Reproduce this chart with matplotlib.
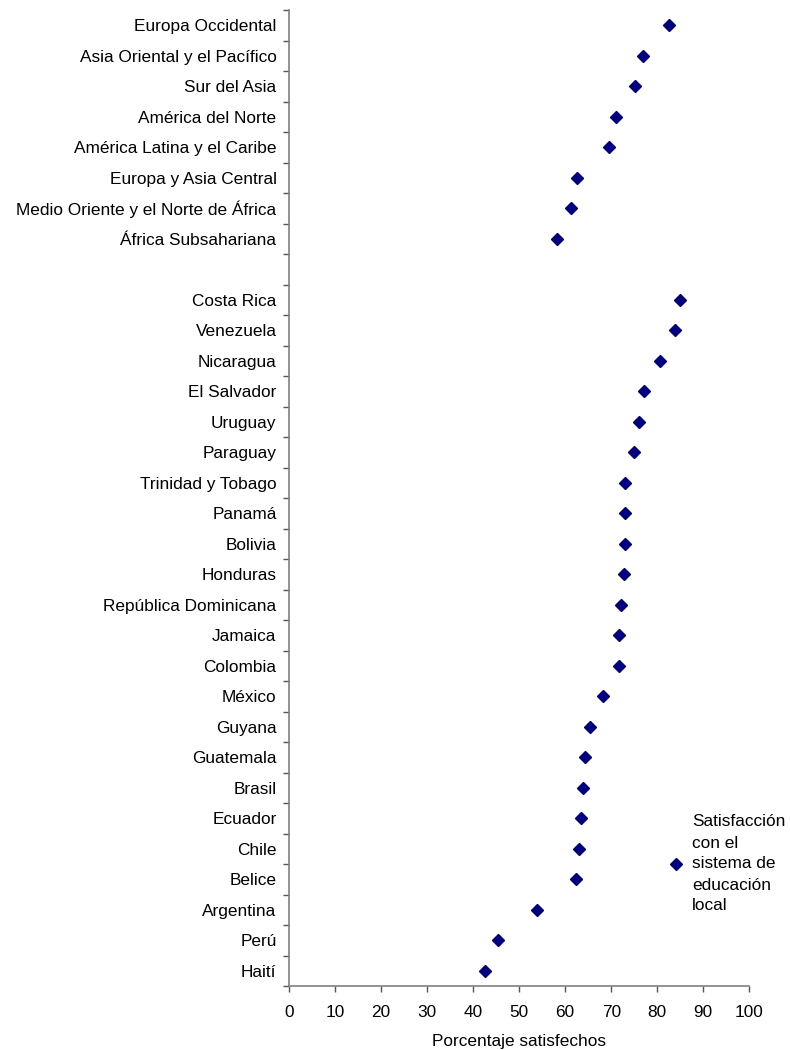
import numpy as np
import matplotlib
matplotlib.use('Agg')
import matplotlib.pyplot as plt
from matplotlib.ticker import FixedLocator

plt.rcParams['font.family'] = ['Liberation Sans', 'DejaVu Sans']

# Regiones del mundo
regiones = ['Europa Occidental', 'Asia Oriental y el Pacífico', 'Sur del Asia',
            'América del Norte', 'América Latina y el Caribe', 'Europa y Asia Central',
            'Medio Oriente y el Norte de África', 'África Subsahariana']
valores_regiones = [82.6, 77.0, 75.2, 71.0, 69.6, 62.6, 61.3, 58.2]

# Países de América Latina y el Caribe
paises = ['Costa Rica', 'Venezuela', 'Nicaragua', 'El Salvador', 'Uruguay', 'Paraguay',
          'Trinidad y Tobago', 'Panamá', 'Bolivia', 'Honduras', 'República Dominicana',
          'Jamaica', 'Colombia', 'México', 'Guyana', 'Guatemala', 'Brasil', 'Ecuador',
          'Chile', 'Belice', 'Argentina', 'Perú', 'Haití']
valores_paises = [84.9, 83.9, 80.5, 77.2, 76.0, 74.9, 73.1, 73.0, 72.9, 72.7, 72.2,
                  71.8, 71.6, 68.2, 65.3, 64.2, 63.8, 63.5, 62.9, 62.4, 53.8, 45.4, 42.6]

xticks = [0, 10, 20, 30, 40, 50, 60, 70, 80, 90, 100]
leyenda = 'Satisfacción\ncon el\nsistema de\neducación\nlocal'

etiquetas = regiones + [''] + paises
valores = valores_regiones + [np.nan] + valores_paises
pos = np.arange(len(etiquetas))

fs = 12.4

fig = plt.figure(figsize=(7.9, 10.5), dpi=100)
ax = fig.add_axes([289 / 790, 1 - 986 / 1050, (749.3 - 289) / 790, (986 - 10) / 1050])

ax.plot(valores, pos, linestyle='none', marker='D', markersize=6.5,
        color='#000080', label=leyenda)

ax.set_xlim(0, 100)
ax.set_ylim(len(etiquetas) - 0.5, -0.5)
ax.set_xticks(xticks)
ax.set_yticks(pos)
ax.set_yticklabels(etiquetas)
ax.yaxis.set_minor_locator(FixedLocator(np.arange(-0.5, len(etiquetas), 1)))

ax.tick_params(axis='y', which='major', length=0, pad=9, labelsize=fs)
ax.tick_params(axis='y', which='minor', length=4, width=1, color='#555555')
ax.tick_params(axis='x', which='major', length=4, width=1, color='#555555',
               pad=9.5, labelsize=fs)

for s in ['top', 'right']:
    ax.spines[s].set_visible(False)
for s in ['left', 'bottom']:
    ax.spines[s].set_color('#808080')
    ax.spines[s].set_linewidth(1.2)

ax.set_xlabel('Porcentaje satisfechos', fontsize=fs, labelpad=10)

leg = fig.legend(loc='center left', bbox_to_anchor=(667 / 790, 1 - 864 / 1050),
                 frameon=False, fontsize=fs, handletextpad=0.45, handlelength=1.0,
                 borderpad=0, borderaxespad=0)
for t in leg.get_texts():
    t.set_linespacing(1.5)

plt.savefig('out.png', dpi=100)
